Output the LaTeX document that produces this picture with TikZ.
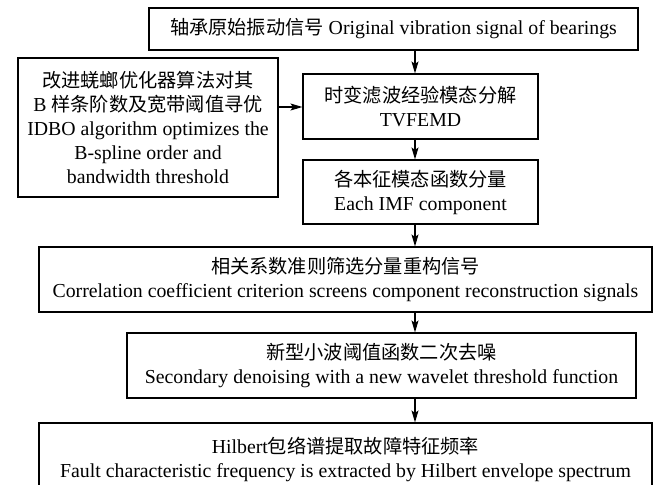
\documentclass[tikz,border=0pt]{standalone}
\usepackage{fontspec}
\setmainfont{Liberation Serif}
\newfontfamily\cjk[Scale=0.97]{Noto Sans CJK SC}
\usetikzlibrary{arrows.meta}
\begin{document}
\begin{tikzpicture}[x=1pt,y=-1pt,
  box/.style={draw,line width=1.1pt,inner sep=0pt,align=center,
    font=\fontsize{19.8}{24}\selectfont},
  arr/.style={line width=1.1pt,-{Stealth[length=12pt,width=7pt,inset=2.5pt]}}]
\useasboundingbox (0,0) rectangle (657,485);
\clip (0,0) rectangle (657,485);
\fill[white] (0,0) rectangle (657,485);
\node[box,minimum width=489pt,minimum height=42pt] (top) at (393.5,29)
  {{\cjk 轴承原始振动信号} Original vibration signal of bearings};
\node[box,minimum width=260pt,minimum height=139pt] (left) at (148,127.5)
  {{\cjk 改进蜣螂优化器算法对其}\\B {\cjk 样条阶数及宽带阈值寻优}\\IDBO algorithm optimizes the\\B-spline order and\\bandwidth threshold};
\node[box,minimum width=235pt,minimum height=65pt] (tvf) at (420.5,106.5)
  {{\cjk 时变滤波经验模态分解}\\TVFEMD};
\node[box,minimum width=235pt,minimum height=64pt] (imf) at (420.5,192)
  {{\cjk 各本征模态函数分量}\\Each IMF component};
\node[box,minimum width=613pt,minimum height=65pt] (cor) at (345.5,279.5)
  {{\cjk 相关系数准则筛选分量重构信号}\\Correlation coefficient criterion screens component reconstruction signals};
\node[box,minimum width=509pt,minimum height=65pt] (sec) at (381.5,365.5)
  {{\cjk 新型小波阈值函数二次去噪}\\Secondary denoising with a new wavelet threshold function};
\node[box,minimum width=613pt,minimum height=72pt] (hil) at (345.5,459)
  {Hilbert{\cjk 包络谱提取故障特征频率}\\Fault characteristic frequency is extracted by Hilbert envelope spectrum};
\draw[arr] (top.south -| 415,0) -- (tvf.north -| 415,0);
\draw[arr] (tvf.south -| 415,0) -- (imf.north -| 415,0);
\draw[arr] (imf.south -| 415,0) -- (cor.north -| 415,0);
\draw[arr] (cor.south -| 415,0) -- (sec.north -| 415,0);
\draw[arr] (sec.south -| 415,0) -- (hil.north -| 415,0);
\draw[arr] (left.east |- 0,107) -- (tvf.west |- 0,107);
\end{tikzpicture}
\end{document}
